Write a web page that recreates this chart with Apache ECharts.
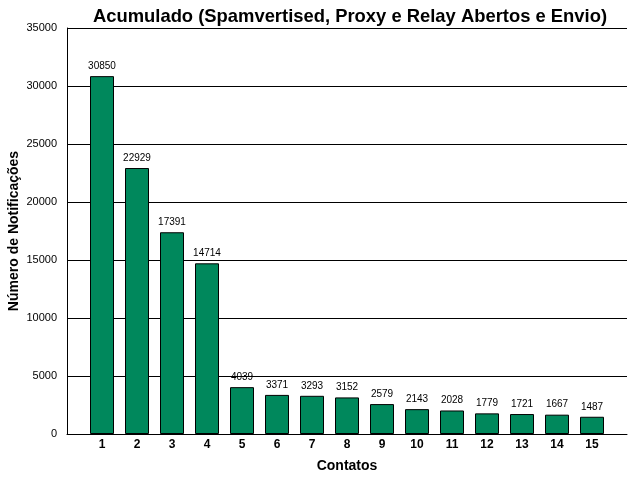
<!DOCTYPE html>
<html>
<head>
<meta charset="utf-8">
<script src="https://cdn.jsdelivr.net/npm/echarts@6/dist/echarts.min.js"></script>
<style>html,body{margin:0;padding:0;background:#fff}#c{width:640px;height:480px}</style>
</head>
<body>
<div id="c"></div>
<script>
const categories = ['1','2','3','4','5','6','7','8','9','10','11','12','13','14','15'];
const values = [30850, 22929, 17391, 14714, 4039, 3371, 3293, 3152, 2579, 2143, 2028, 1779, 1721, 1667, 1487];
const titleText = 'Acumulado (Spamvertised, Proxy e Relay Abertos e Envio)';
const xName = 'Contatos';
const yName = 'Número de Notificações';

const font = '"Liberation Sans", Arial, sans-serif';
const cats = [''].concat(categories, ['']);
const data = [null].concat(values, [null]);

const chart = echarts.init(document.getElementById('c'), null, {renderer: 'canvas'});
chart.setOption({
  animation: false,
  backgroundColor: '#ffffff',
  textStyle: {fontFamily: font},
  title: {
    text: titleText,
    left: 345, top: 3, textAlign: 'center',
    textStyle: {fontFamily: font, fontSize: 18.4, fontWeight: 'bold', color: '#000'}
  },
  grid: {left: 67, right: 13, top: 28, bottom: 46, containLabel: false, outerBoundsMode: 'none'},
  xAxis: {
    type: 'category',
    data: cats,
    boundaryGap: false,
    name: xName,
    nameLocation: 'middle',
    nameGap: 25,
    nameMoveOverlap: false,
    nameTextStyle: {fontFamily: font, fontSize: 14, fontWeight: 'bold', color: '#000'},
    axisLine: {lineStyle: {color: '#000', width: 1}},
    axisTick: {show: false},
    axisLabel: {interval: 0, fontFamily: font, fontSize: 12, fontWeight: 'bold', color: '#000', margin: 5},
    splitLine: {show: false}
  },
  yAxis: {
    type: 'value',
    min: 0, max: 35000, interval: 5000,
    name: yName,
    nameLocation: 'middle',
    nameGap: 46,
    nameMoveOverlap: false,
    nameTextStyle: {fontFamily: font, fontSize: 14, fontWeight: 'bold', color: '#000'},
    axisLine: {show: true, lineStyle: {color: '#000', width: 1}},
    axisTick: {show: false},
    axisLabel: {fontFamily: font, fontSize: 11, color: '#000', margin: 10, formatter: function (v) { return String(v); }},
    splitLine: {show: true, lineStyle: {color: '#000', width: 1}}
  },
  series: [{
    type: 'bar',
    data: data,
    barWidth: 24,
    itemStyle: {color: '#00885C', borderColor: '#000', borderWidth: 1},
    label: {show: true, position: 'top', distance: 5, fontFamily: font, fontSize: 10, color: '#000'}
  }]
});
</script>
</body>
</html>
